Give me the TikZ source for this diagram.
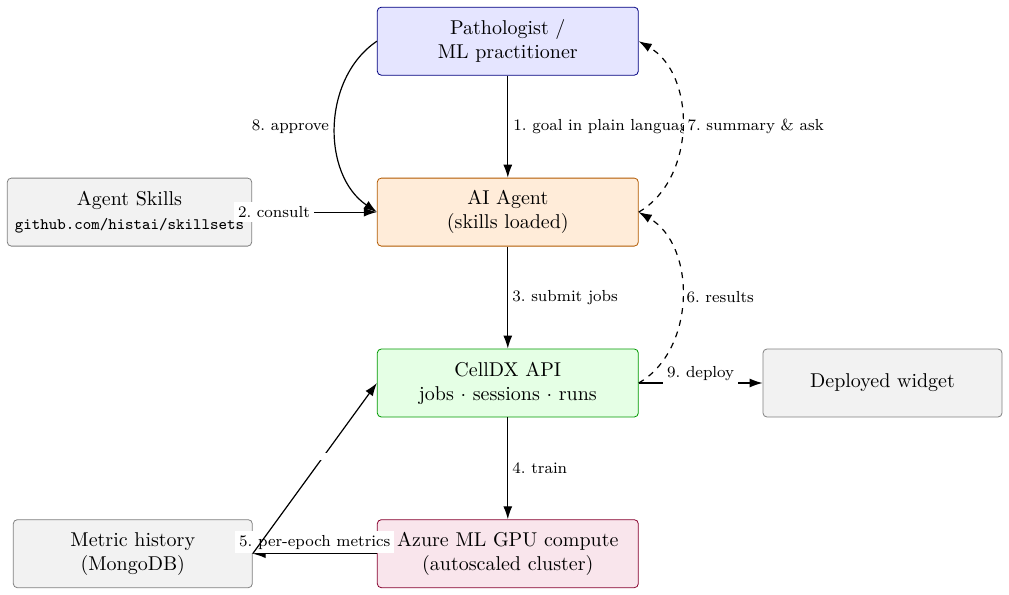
\documentclass[tikz,border=0pt]{standalone}
\usetikzlibrary{arrows.meta}
\begin{document}
\begin{tikzpicture}[x=0.5pt,y=-0.5pt,
  box/.style={draw, rounded corners=2pt, align=center, minimum height=34pt, inner sep=3pt},
  mainbox/.style={box, minimum width=130.5pt},
  sidebox/.style={box, minimum width=119.5pt, fill=gray!10, draw=gray},
  conn/.style={semithick, -{Latex[length=6.5pt,width=4.5pt]}},
  back/.style={conn, dashed},
  lbl/.style={font=\footnotesize\frenchspacing, inner sep=2pt},
  gapnode/.style={fill=white, inner sep=1.6pt}
]
\useasboundingbox (0,0) rectangle (1009,595);

\node[mainbox, fill=blue!10, draw=blue!50!black] (user) at (507.8,41.2) {Pathologist /\\ ML practitioner};
\node[mainbox, fill=orange!15, draw=orange!70!black] (agent) at (507.8,212.1) {AI Agent\\ (skills loaded)};
\node[mainbox, fill=green!10, draw=green!60!black] (api) at (507.8,383) {CellDX API\\ jobs $\cdot$ sessions $\cdot$ runs};
\node[mainbox, fill=purple!10, draw=purple!70!black] (azure) at (507.8,553.7) {Azure ML GPU compute\\ (autoscaled cluster)};
\node[sidebox, minimum width=122.2pt] (skills) at (129.5,212.1) {Agent Skills\\ {\footnotesize\ttfamily github.com/histai/skillsets}};
\node[sidebox] (metric) at (132.8,553.7) {Metric history\\ (MongoDB)};
\node[sidebox] (deploy) at (882.5,383) {Deployed widget};

\draw[conn] (user.south) -- node[lbl, right, xshift=0.5pt]{1. goal in plain language} (agent.north);
\draw[conn] (skills.east) -- node[lbl, fill=white, anchor=east]{2. consult} (agent.west);
\draw[conn] (agent.south) -- node[lbl, right]{3. submit jobs} (api.north);
\draw[conn] (api.south) -- node[lbl, right]{4. train} (azure.north);
\draw[conn] (azure.west) -- node[lbl, fill=white, above]{5. per-epoch metrics} (metric.east);
\draw[conn] (metric.east) -- node[gapnode, pos=0.57]{} (api.west);
\draw[back] (api.east) to[bend right=60] node[lbl, right]{6. results} (agent.east);
\draw[back] (agent.east) to[bend right=60] node[lbl, fill=white, right, xshift=0.5pt]{7. summary \& ask} (user.east);
\draw[conn] (user.west) to[bend right=56] node[lbl, left, xshift=-1pt]{8. approve} (agent.west);
\draw[conn] (api.east) -- node[lbl, fill=white, anchor=south, yshift=-1.2pt]{9. deploy} (deploy.west);
\end{tikzpicture}
\end{document}
